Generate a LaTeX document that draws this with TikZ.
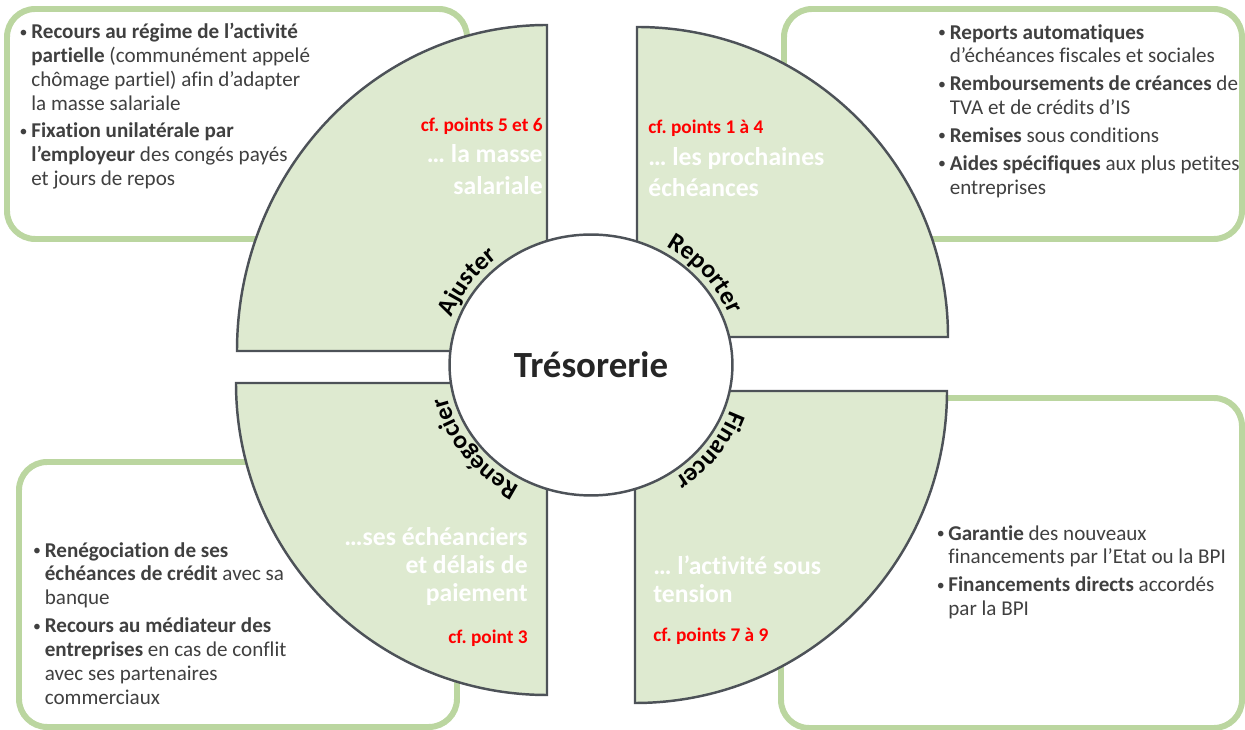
\documentclass[tikz,border=0pt]{standalone}
\usepackage{fontspec}
\setmainfont{Carlito}[Ligatures={NoCommon}]
\usetikzlibrary{shapes.geometric,decorations.text}
\frenchspacing
\definecolor{boxgreen}{RGB}{187,214,160}
\definecolor{secfill}{RGB}{222,234,208}
\definecolor{secline}{RGB}{77,82,88}
\definecolor{bodycol}{RGB}{64,64,64}
\definecolor{titlecol}{RGB}{38,38,38}
\definecolor{redcol}{RGB}{255,0,0}
\newcommand\bodyfont{\fontsize{12}{13.55}\selectfont}
\newcommand\redfont{\fontsize{11}{13}\selectfont\bfseries}
\newcommand\wfont[1]{\fontsize{14.6}{#1}\selectfont\bfseries}
\newcommand\lblfont{\fontsize{14.5}{16}\selectfont\bfseries}
\newcommand\bulx{\makebox[5.4pt][l]{\kern-1.2pt\raisebox{0.9pt}{\fontsize{9}{9}\selectfont•}}}
\newcommand\indx{\hspace*{5.4pt}}
\begin{document}
\begin{tikzpicture}[x=0.02cm,y=0.02cm,
  infobox/.style={draw=boxgreen,line width=3.4pt,fill=white,rounded corners=16pt},
  sector/.style={draw=secline,line width=1.4pt,fill=secfill},
  bodytext/.style={font=\bodyfont,text=bodycol,inner sep=0pt,align=left},
  redtext/.style={font=\redfont,text=redcol,inner sep=0pt},
  whitetext/.style={text=white,inner sep=0pt},
  hub/.style={ellipse,draw=secline,line width=1.4pt,fill=white,minimum width=161pt,minimum height=148.5pt,inner sep=0pt,font=\fontsize{21}{25}\selectfont\bfseries,text=titlecol},
  arclabel/.style={decorate,decoration={text along path,text={|\lblfont|#1},text align=center}}
]
\useasboundingbox (0,0) rectangle (1245,730);
% boxes
\draw[infobox] (7,491) rectangle (467,721);
\draw[infobox] (784,491) rectangle (1242,721);
\draw[infobox] (19,3) rectangle (457,268);
\draw[infobox] (781,2) rectangle (1242,332);
% sectors
\draw[sector] (547,379) -- (547,705) arc[start angle=90,end angle=180,x radius=310,y radius=326] -- cycle;
\draw[sector] (948,393) arc[start angle=0,end angle=90,x radius=311,y radius=310] -- (637,393) -- cycle;
\draw[sector] (236,347) arc[start angle=180,end angle=270,x radius=311,y radius=312] -- (547,347) -- cycle;
\draw[sector] (635,27) arc[start angle=270,end angle=360,x radius=312,y radius=312] -- (635,339) -- cycle;
% hub
\node[hub] (tres) at (591,365) {Trésorerie};
% arc labels
\path[arclabel=Ajuster] (tres.center) ++(178:148 and 138) arc[start angle=178,end angle=112,x radius=148,y radius=138];
\path[arclabel=Reporter] (tres.center) ++(73:148 and 138) arc[start angle=73,end angle=7,x radius=148,y radius=138];
\path[arclabel=Renégocier] (tres.center) ++(252:148 and 138) arc[start angle=252,end angle=182,x radius=148,y radius=138];
\path[arclabel=Financer] (tres.center) ++(-4:148 and 138) arc[start angle=-4,end angle=-70,x radius=148,y radius=138];
% sector texts
\node[redtext,anchor=base east] (tlred) at (543,598) {cf. points 5 et 6};
\node[whitetext,font=\wfont{18.1},align=right,anchor=north east] (tlwhite) at (543,586) {… la masse\\salariale};
\node[redtext,anchor=base west] (trred) at (648,596) {cf. points 1 à 4};
\node[whitetext,font=\wfont{17.6},align=left,anchor=north west] (trwhite) at (648,583) {… les prochaines\\échéances};
\node[whitetext,font=\wfont{15.9},align=right,anchor=north east] (blwhite) at (528,203) {…ses échéanciers\\et délais de\\paiement};
\node[redtext,anchor=base east] (blred) at (528,86) {cf. point 3};
\node[whitetext,font=\wfont{16.4},align=left,anchor=north west] (brwhite) at (653,175) {… l’activité sous\\tension};
\node[redtext,anchor=base west] (brred) at (653,88) {cf. points 7 à 9};
% box texts
\node[bodytext,anchor=north west] (tltext) at (21.5,707) {%
\bulx\textbf{Recours au régime de l’activité}\\
\indx\textbf{partielle} (communément appelé\\
\indx chômage partiel) afin d’adapter\\
\indx la masse salariale\\[2.3pt]
\bulx\textbf{Fixation unilatérale par}\\
\indx\textbf{l’employeur} des congés payés\\
\indx et jours de repos};
\node[bodytext,anchor=north west] (trtext) at (940,706) {%
\bulx\textbf{Reports automatiques}\\
\indx d’échéances fiscales  et sociales\\[2.3pt]
\bulx\textbf{Remboursements de créances} de\\
\indx TVA et de crédits d’IS\\[2.3pt]
\bulx\textbf{Remises} sous conditions\\[2.3pt]
\bulx\textbf{Aides spécifiques} aux plus petites\\
\indx entreprises};
\node[bodytext,anchor=north west] (bltext) at (35,188) {%
\bulx\textbf{Renégociation de ses}\\
\indx\textbf{échéances de crédit} avec sa\\
\indx banque\\[2.5pt]
\bulx\textbf{Recours au médiateur des}\\
\indx\textbf{entreprises} en cas de conflit\\
\indx avec ses partenaires\\
\indx commerciaux};
\node[bodytext,anchor=north west] (brtext) at (938.5,205) {%
\bulx\textbf{Garantie} des nouveaux\\
\indx financements par l’Etat ou la BPI\\[2.3pt]
\bulx\textbf{Financements directs} accordés\\
\indx par la BPI};
\end{tikzpicture}
\end{document}
